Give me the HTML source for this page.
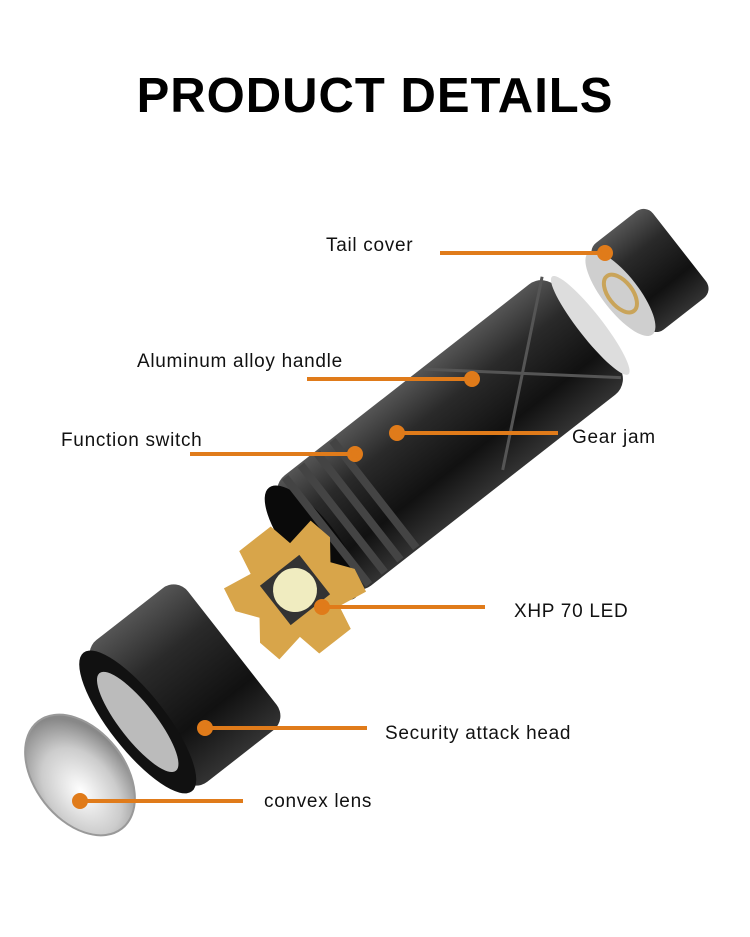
<!DOCTYPE html>
<html><head><meta charset="utf-8"><style>
body{margin:0;background:#fff;}
.w{position:relative;width:750px;height:937px;overflow:hidden;font-family:"Liberation Sans",sans-serif;}
h1{position:absolute;top:68px;left:0;width:750px;text-align:center;margin:0;font-size:49px;font-weight:bold;letter-spacing:1px;color:#000;}
.l{position:absolute;font-size:19px;letter-spacing:0.7px;color:#111;}
</style></head><body><div class="w">
<h1>PRODUCT DETAILS</h1>
<svg width="750" height="937" style="position:absolute;left:0;top:0">
<defs>
<linearGradient id="g" x1="0" y1="0" x2="0" y2="1"><stop offset="0" stop-color="#555"/><stop offset=".3" stop-color="#2a2a2a"/><stop offset=".7" stop-color="#111"/><stop offset="1" stop-color="#333"/></linearGradient>
<radialGradient id="ln" cx=".4" cy=".6" r=".6"><stop offset="0" stop-color="#fff"/><stop offset=".6" stop-color="#ccc"/><stop offset="1" stop-color="#888"/></radialGradient>
</defs>
<g transform="translate(450,435) rotate(-38)">
<rect x="-175" y="-70" width="350" height="140" rx="20" fill="url(#g)"/>
<ellipse cx="-175" cy="0" rx="25" ry="70" fill="#0a0a0a"/>
<rect x="-160" y="-68" width="8" height="136" fill="#444"/>
<rect x="-140" y="-68" width="8" height="136" fill="#444"/>
<rect x="-120" y="-68" width="8" height="136" fill="#444"/>
<rect x="-100" y="-68" width="8" height="136" fill="#444"/>
<path d="M20,-68 L170,60 M20,60 L170,-68" stroke="#555" stroke-width="3"/>
<ellipse cx="178" cy="0" rx="12" ry="62" fill="#ddd"/>
</g>
<g transform="translate(648,272) rotate(-38)">
<rect x="-35" y="-55" width="75" height="110" rx="12" fill="url(#g)"/>
<ellipse cx="-35" cy="0" rx="18" ry="52" fill="#cfcfcf"/>
<ellipse cx="-35" cy="0" rx="12" ry="22" fill="none" stroke="#c9a45a" stroke-width="4"/>
</g>
<g transform="translate(295,590) rotate(-38)">
<polygon points="-20,-65 20,-65 25,-40 55,-45 60,-20 45,0 60,20 55,45 25,40 20,65 -20,65 -25,40 -55,45 -60,20 -45,0 -60,-20 -55,-45 -25,-40" fill="#d8a54a"/>
<rect x="-25" y="-25" width="50" height="50" fill="#333"/>
<circle cx="0" cy="0" r="22" fill="#f0ecc0"/>
</g>
<g transform="translate(185,685) rotate(-38)">
<rect x="-60" y="-90" width="120" height="180" rx="18" fill="url(#g)"/>
<ellipse cx="-60" cy="0" rx="28" ry="88" fill="#111"/>
<ellipse cx="-60" cy="0" rx="18" ry="62" fill="#bbb"/>
</g>
<g transform="translate(80,775) rotate(-38)">
<ellipse cx="0" cy="0" rx="45" ry="68" fill="url(#ln)" stroke="#999" stroke-width="2"/>
</g>
<g stroke="#e07b1a" stroke-width="4" fill="#e07b1a">
<line x1="440" y1="253" x2="605" y2="253"/><circle cx="605" cy="253" r="6"/>
<line x1="307" y1="379" x2="472" y2="379"/><circle cx="472" cy="379" r="6"/>
<line x1="190" y1="454" x2="355" y2="454"/><circle cx="355" cy="454" r="6"/>
<line x1="397" y1="433" x2="558" y2="433"/><circle cx="397" cy="433" r="6"/>
<line x1="322" y1="607" x2="485" y2="607"/><circle cx="322" cy="607" r="6"/>
<line x1="205" y1="728" x2="367" y2="728"/><circle cx="205" cy="728" r="6"/>
<line x1="80" y1="801" x2="243" y2="801"/><circle cx="80" cy="801" r="6"/>
</g>
</svg>
<div class="l" style="left:326px;top:235px">Tail cover</div>
<div class="l" style="left:137px;top:351px">Aluminum alloy handle</div>
<div class="l" style="left:61px;top:430px">Function switch</div>
<div class="l" style="left:572px;top:427px">Gear jam</div>
<div class="l" style="left:514px;top:601px">XHP 70 LED</div>
<div class="l" style="left:385px;top:723px">Security attack head</div>
<div class="l" style="left:264px;top:791px">convex lens</div>
</div></body></html>
